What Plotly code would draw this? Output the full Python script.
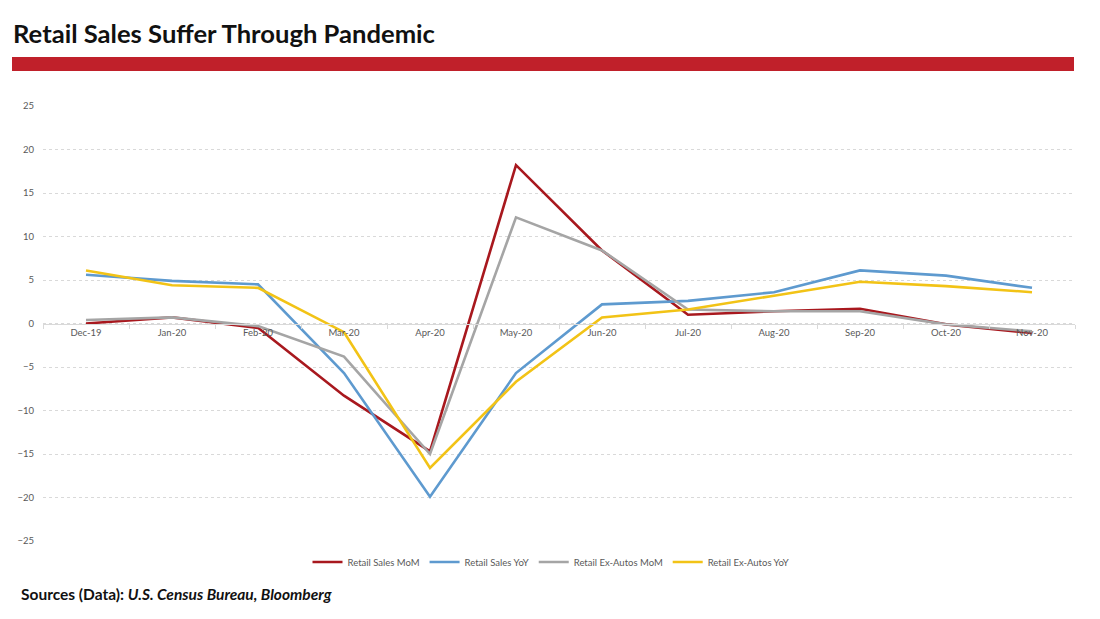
import plotly.graph_objects as go

months = ["Dec-19", "Jan-20", "Feb-20", "Mar-20", "Apr-20", "May-20",
          "Jun-20", "Jul-20", "Aug-20", "Sep-20", "Oct-20", "Nov-20"]
retail_mom = [0.0, 0.7, -0.5, -8.3, -14.7, 18.2, 8.4, 1.0, 1.4, 1.7, -0.1, -1.1]
retail_yoy = [5.6, 4.9, 4.5, -5.7, -19.9, -5.7, 2.2, 2.6, 3.6, 6.1, 5.5, 4.1]
exauto_mom = [0.4, 0.7, -0.3, -3.8, -15.0, 12.2, 8.4, 1.6, 1.4, 1.4, -0.1, -0.9]
exauto_yoy = [6.1, 4.4, 4.1, -1.0, -16.6, -6.7, 0.7, 1.6, 3.2, 4.8, 4.3, 3.6]
y_ticks = [-25, -20, -15, -10, -5, 0, 5, 10, 15, 20, 25]

series = [
    ("Retail Sales MoM", retail_mom, "#A8181E"),
    ("Retail Sales YoY", retail_yoy, "#5E9ACF"),
    ("Retail Ex-Autos MoM", exauto_mom, "#A5A5A5"),
    ("Retail Ex-Autos YoY", exauto_yoy, "#F2C316"),
]

fig = go.Figure()
for name, vals, col in series:
    fig.add_trace(go.Scatter(x=months, y=vals, name=name, mode="lines",
                             line=dict(color=col, width=2.6)))

L, R, T, B = 43, 25, 106, 78
W, H = 1100, 619
pw, ph = W - L - R, H - T - B

def px(x):
    return (x - L) / pw

def py(y):
    return (H - B - y) / ph

fig.update_layout(
    width=W, height=H,
    margin=dict(l=L, r=R, t=T, b=B),
    paper_bgcolor="white", plot_bgcolor="white",
    font=dict(family="Lato, 'Open Sans', sans-serif", color="#595959"),
    showlegend=True,
    legend=dict(orientation="h", x=px(551), xanchor="center", y=py(562), yanchor="middle",
                font=dict(size=9.5, color="#595959"), itemwidth=30, tracegroupgap=0,
                bgcolor="rgba(0,0,0,0)"),
    xaxis=dict(type="category", range=[-0.5, 11.5], anchor="free", position=0.5,
               showgrid=False, showline=True, linecolor="#d9d9d9", linewidth=1,
               ticks="outside", tickson="boundaries", ticklen=4, tickcolor="#d9d9d9",
               tickfont=dict(size=9.5, color="#595959"), fixedrange=True),
    yaxis=dict(range=[-25, 25], tickvals=y_ticks, showgrid=True, gridcolor="#d9d9d9",
               griddash="dot", gridwidth=1, zeroline=False, showline=False,
               tickfont=dict(size=9.5, color="#595959"), ticks="", ticklabelstandoff=8),
    shapes=[dict(type="rect", xref="paper", yref="paper",
                 x0=px(12), x1=px(1074), y0=py(71), y1=py(57),
                 fillcolor="#C0202A", line=dict(width=0), layer="above")],
    annotations=[
        dict(text="<b>Retail Sales Suffer Through Pandemic</b>", xref="paper", yref="paper",
             x=px(11), y=py(33), xanchor="left", yanchor="middle", showarrow=False,
             font=dict(size=25.6, color="#111111", family="Lato, 'Open Sans', sans-serif")),
        dict(text="<b>Sources (Data): <i>U.S. Census Bureau, Bloomberg</i></b>", xref="paper",
             yref="paper", x=px(19), y=py(594), xanchor="left", yanchor="middle",
             showarrow=False,
             font=dict(size=15.5, color="#111111", family="Lato, 'Open Sans', sans-serif")),
    ],
)

fig.write_html("out.html")
